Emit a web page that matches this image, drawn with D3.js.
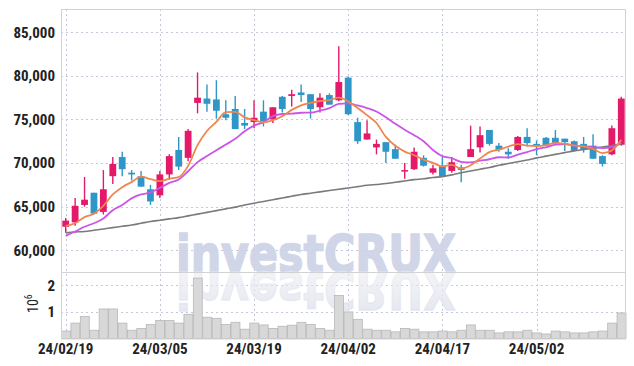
<!DOCTYPE html>
<html>
<head>
<meta charset="utf-8">
<script src="https://cdn.jsdelivr.net/npm/d3@7"></script>
<style>
  html, body { margin: 0; padding: 0; background: #fff; }
  svg { display: block; }
  .lbl { font-family: "Liberation Sans Narrow", "Roboto Condensed", "Liberation Sans", sans-serif; fill: #222; }
</style>
</head>
<body>
<svg id="chart" width="634" height="366"></svg>
<script>
// trading days shown on the chart
var dates = [
  "24/02/19","24/02/20","24/02/21","24/02/22","24/02/23","24/02/26","24/02/27","24/02/28","24/02/29",
  "24/03/04","24/03/05","24/03/06","24/03/07","24/03/08","24/03/11","24/03/12","24/03/13","24/03/14","24/03/15",
  "24/03/18","24/03/19","24/03/20","24/03/21","24/03/22","24/03/25","24/03/26","24/03/27","24/03/28","24/03/29",
  "24/04/01","24/04/02","24/04/03","24/04/04","24/04/05","24/04/08","24/04/09","24/04/11","24/04/12","24/04/15",
  "24/04/16","24/04/17","24/04/18","24/04/19","24/04/22","24/04/23","24/04/24","24/04/25","24/04/26","24/04/29",
  "24/04/30","24/05/02","24/05/03","24/05/07","24/05/08","24/05/09","24/05/10","24/05/13","24/05/14","24/05/16","24/05/17"
];
var opens = [62700,63200,65200,66600,64400,68500,70700,68900,68500,67000,66300,68700,71500,70600,76900,77400,77300,75600,76200,74600,
  74700,75900,75000,77600,77700,78100,77900,76400,77800,77200,79800,74700,72700,71800,72400,71600,69100,69300,70600,68900,
  69700,69100,69500,70700,71800,73800,72000,71300,71500,73000,72200,72900,72900,72800,72500,72200,72000,70800,71000,72100];
var highs = [63700,66000,68400,66600,69200,70700,71300,69200,69100,67500,69100,71000,73000,73900,80400,79000,79500,77200,77700,76200,
  77200,77200,76400,77700,78400,79000,77900,78000,78000,83400,79900,75200,74900,72700,72400,72100,70000,71800,70900,69800,
  70700,70700,69800,74300,74200,73800,72300,71700,73100,74000,72600,73000,73800,72800,72600,73000,73300,70900,74300,77600];
var lows = [62000,62800,65000,64100,64100,67600,68500,68000,67300,65200,66000,68100,69200,70200,75700,75900,75100,74900,73900,73900,
  74000,74200,74600,75800,76500,77000,75100,75800,76700,77100,75500,72200,72700,71000,70000,70500,68200,69200,69600,68700,
  68500,68900,67800,70700,71200,72000,71300,70500,71400,71900,70900,72000,72200,71400,71400,71200,70500,69600,70900,72000];
var closes = [63400,65100,65800,64200,67000,69900,69300,68700,67300,65600,68700,70800,69600,73700,77500,76800,76000,75200,73900,74300,
  75200,74800,76400,76200,77900,77800,76200,77500,76700,79300,75600,72500,73400,72200,71300,70500,69200,71300,69700,69400,
  68500,70100,69200,71600,73200,72200,71500,71000,73000,72300,72000,72000,72300,72400,71400,71500,70500,69900,74000,77400];
// volume, millions of shares
var volumes = [0.28,0.58,0.83,0.31,1.11,1.11,0.58,0.31,0.38,0.53,0.68,0.68,0.58,0.91,2.27,0.80,0.76,0.53,0.61,0.35,
  0.58,0.51,0.38,0.46,0.50,0.61,0.53,0.38,0.31,1.62,1.00,0.72,0.35,0.31,0.31,0.25,0.38,0.35,0.25,0.25,
  0.28,0.25,0.31,0.51,0.31,0.31,0.21,0.25,0.25,0.31,0.21,0.17,0.28,0.25,0.21,0.21,0.25,0.28,0.58,0.96];
// moving average lines
var ma5 = [62800,63100,63800,64200,65100,66400,67240,67820,68440,68160,67920,68220,68400,69680,72060,73680,74720,75840,75880,75240,
  74920,74680,74920,75380,76100,76620,76900,77120,77220,77500,77060,76320,75500,74600,73000,71980,71320,70900,70400,70020,
  69620,69800,69380,69760,70520,71260,71540,71900,72180,72000,71960,72060,72320,72200,72020,71920,71620,71140,71460,72660];
var ma10 = [61650,62150,62700,63100,63650,64600,65200,65950,66400,66630,67160,67730,68110,69060,70110,70800,71470,72120,72780,73650,
  74300,74700,75380,75630,75670,75770,75790,76020,76300,76800,76840,76610,76310,75910,75250,74520,73820,73200,72500,71510,
  70800,70560,70140,70080,70270,70440,70670,70640,70970,71260,71610,71800,72110,72190,72010,71940,71840,71730,71830,72340];
var ma60 = [62000,62100,62150,62300,62450,62600,62750,62900,63100,63300,63450,63600,63750,63950,64150,64350,64550,64750,64950,65200,
  65400,65600,65800,66000,66200,66400,66550,66700,66850,67000,67150,67300,67450,67550,67650,67800,67950,68100,68200,68350,
  68450,68650,68900,69100,69300,69500,69750,69950,70150,70350,70600,70800,71000,71200,71400,71550,71700,71850,72000,72200];
var priceTicks = [60000,65000,70000,75000,80000,85000];
var volTicks = [1,2];
var dateTicks = ["24/02/19","24/03/05","24/03/19","24/04/02","24/04/17","24/05/02"];

(function() {
  var UP = "#e5196a", DOWN = "#2f96c8", GRID = "#c3c8dc", BORDER = "#d2d2d2";
  var pL = 61, pR = 626, pT = 9, split = 272, pB = 338.5;

  var svg = d3.select("#chart");
  var idx = d3.range(dates.length);

  var x = d3.scaleBand().domain(dates).range([pL, pR]).padding(0);
  var bw = x.bandwidth();
  var cx = function(i) { return x(dates[i]) + bw / 2; };
  var y = d3.scaleLinear().domain([57510, 87670]).range([split, pT]);
  var yv = d3.scaleLinear().domain([0, 2.5]).range([pB, split]);

  // grid
  var grid = svg.append("g").attr("stroke", GRID).attr("stroke-dasharray", "2,3").attr("stroke-width", 1);
  grid.selectAll("line.h").data(priceTicks).enter().append("line")
    .attr("x1", pL).attr("x2", pR)
    .attr("y1", function(d) { return Math.round(y(d)) + 0.5; })
    .attr("y2", function(d) { return Math.round(y(d)) + 0.5; });
  grid.selectAll("line.vh").data(volTicks).enter().append("line")
    .attr("x1", pL).attr("x2", pR)
    .attr("y1", function(d) { return Math.round(yv(d)) + 0.5; })
    .attr("y2", function(d) { return Math.round(yv(d)) + 0.5; });
  grid.selectAll("line.v").data(dateTicks).enter().append("line")
    .attr("x1", function(d) { return Math.round(x(d) + bw / 2) + 0.5; })
    .attr("x2", function(d) { return Math.round(x(d) + bw / 2) + 0.5; })
    .attr("y1", pT).attr("y2", pB);

  // watermark with reflection
  var defs = svg.append("defs");
  var grad = defs.append("linearGradient").attr("id", "fade").attr("x1", 0).attr("y1", 0).attr("x2", 0).attr("y2", 1);
  grad.append("stop").attr("offset", "0%").attr("stop-color", "#dde0eb").attr("stop-opacity", 0.85);
  grad.append("stop").attr("offset", "100%").attr("stop-color", "#eceef3").attr("stop-opacity", 0.5);

  var wm = svg.append("g").attr("font-family", "DejaVu Sans, sans-serif").attr("font-weight", "bold")
    .attr("font-size", 52);
  wm.append("text").attr("x", 176).attr("y", split).attr("textLength", 280).attr("lengthAdjust", "spacingAndGlyphs")
    .attr("fill", "#cdd3e7").attr("stroke", "#cdd3e7").attr("stroke-width", 1.6)
    .attr("opacity", 0.92).text("investCRUX");
  wm.append("text").attr("x", 176).attr("y", split).attr("textLength", 280).attr("lengthAdjust", "spacingAndGlyphs")
    .attr("transform", "translate(0," + (2 * split) + ") scale(1,-1)")
    .attr("fill", "url(#fade)").attr("stroke", "url(#fade)").attr("stroke-width", 1.6).text("investCRUX");

  // volume bars
  svg.append("g").selectAll("rect").data(idx).enter().append("rect")
    .attr("x", function(i) { return x(dates[i]) + 0.5; })
    .attr("width", bw - 0.5)
    .attr("y", function(i) { return yv(volumes[i]); })
    .attr("height", function(i) { return pB - yv(volumes[i]); })
    .attr("fill", "#d8d8d8").attr("stroke", "#b8b8b8").attr("stroke-width", 0.8);

  // borders
  var bd = svg.append("g").attr("stroke", BORDER).attr("fill", "none");
  bd.append("rect").attr("x", pL + 0.5).attr("y", pT + 0.5).attr("width", pR - pL - 1).attr("height", pB - pT);
  bd.append("line").attr("x1", pL).attr("x2", pR).attr("y1", split + 0.5).attr("y2", split + 0.5);

  // candles
  var candles = svg.append("g").selectAll("g").data(idx).enter().append("g");
  candles.append("line")
    .attr("x1", function(i) { return cx(i); }).attr("x2", function(i) { return cx(i); })
    .attr("y1", function(i) { return y(highs[i]); }).attr("y2", function(i) { return y(lows[i]); })
    .attr("stroke", function(i) { return closes[i] >= opens[i] ? UP : DOWN; })
    .attr("stroke-width", 1.4);
  candles.append("rect")
    .attr("x", function(i) { return cx(i) - 3.4; })
    .attr("width", 6.8)
    .attr("y", function(i) { return y(Math.max(opens[i], closes[i])); })
    .attr("height", function(i) { return Math.max(1.5, Math.abs(y(opens[i]) - y(closes[i]))); })
    .attr("fill", function(i) { return closes[i] >= opens[i] ? UP : DOWN; });

  // moving averages
  var maLine = function(arr) {
    return d3.line().x(function(i) { return cx(i); }).y(function(i) { return y(arr[i]); }).curve(d3.curveMonotoneX);
  };
  svg.append("path").datum(idx).attr("d", maLine(ma60)).attr("fill", "none").attr("stroke", "#7a7a7a").attr("stroke-width", 1.6);
  svg.append("path").datum(idx).attr("d", maLine(ma10)).attr("fill", "none").attr("stroke", "#cc55e8").attr("stroke-width", 1.8);
  svg.append("path").datum(idx).attr("d", maLine(ma5)).attr("fill", "none").attr("stroke", "#ef8650").attr("stroke-width", 1.8);

  // axes
  var fmt = d3.format(",");
  var ya = svg.append("g").attr("transform", "translate(" + (pL - 6) + ",0)")
    .call(d3.axisLeft(y).tickValues(priceTicks).tickFormat(fmt).tickSize(0).tickPadding(0));
  ya.select(".domain").remove();
  ya.selectAll("text").attr("class", "lbl").attr("font-size", 15).attr("font-weight", "bold");

  var yva = svg.append("g").attr("transform", "translate(" + (pL - 6) + ",0)")
    .call(d3.axisLeft(yv).tickValues(volTicks).tickFormat(d3.format("d")).tickSize(0).tickPadding(0));
  yva.select(".domain").remove();
  yva.selectAll("text").attr("class", "lbl").attr("font-size", 15).attr("font-weight", "bold");

  var xa = svg.append("g").attr("transform", "translate(0," + pB + ")")
    .call(d3.axisBottom(x).tickValues(dateTicks).tickSize(0).tickPadding(5));
  xa.select(".domain").remove();
  xa.selectAll("text").attr("class", "lbl").attr("font-size", 15).attr("font-weight", "bold");

  // volume unit label
  var unit = svg.append("text").attr("class", "lbl").attr("font-size", 14)
    .attr("transform", "translate(38,313) rotate(-90)");
  unit.append("tspan").text("10");
  unit.append("tspan").attr("dy", -6).attr("font-size", 10).text("6");
})();
</script>
</body>
</html>
